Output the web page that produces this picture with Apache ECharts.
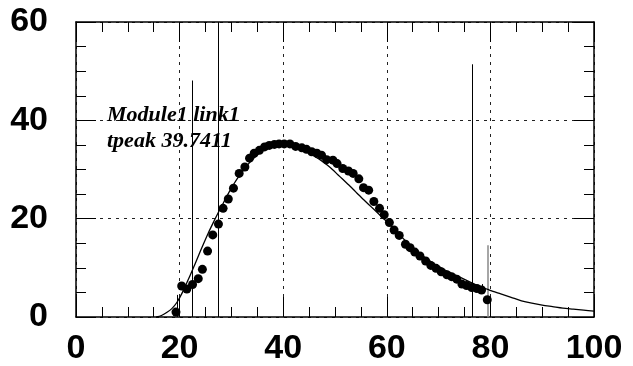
<!DOCTYPE html>
<html>
<head>
<meta charset="utf-8">
<script src="https://cdn.jsdelivr.net/npm/echarts@6/dist/echarts.min.js"></script>
<style>
  html, body { margin: 0; padding: 0; background: #fff; }
  #chart { width: 633px; height: 366px; }
</style>
</head>
<body>
<div id="chart"></div>
<script>
// Measured pulse samples
const sampleX = [19.3,20.4,21.4,22.5,23.6,24.4,25.4,26.4,27.5,28.4,29.4,30.4,31.5,32.6,33.5,34.4,35.4,36.4,37.3,38.3,39.2,40.2,41.3,42.4,43.6,44.5,45.5,46.5,47.4,48.4,49.6,50.4,51.5,52.6,53.5,54.6,55.5,56.5,57.5,58.6,59.5,60.5,61.4,62.4,63.6,64.5,65.4,66.4,67.5,68.5,69.5,70.5,71.6,72.5,73.5,74.5,75.4,76.4,77.4,78.3,79.4];
const sampleY = [1.0,6.3,5.7,6.6,7.8,9.7,13.4,16.7,18.9,22.1,24.0,26.2,29.2,30.5,32.3,33.3,33.9,34.6,34.9,35.1,35.2,35.2,35.2,34.7,34.4,34.1,33.6,33.3,32.9,32.0,31.9,31.2,30.2,29.7,29.2,28.1,26.3,25.8,23.5,22.1,20.8,19.2,17.7,16.6,14.8,14.1,13.2,12.4,11.4,10.5,9.9,9.2,8.6,8.2,7.7,6.7,6.4,6.0,5.8,5.5,3.5];

// Fitted pulse shape
const fitX = [15.5,16.5,17.5,18.5,19.5,20.5,21.5,22.5,23.5,24.5,25.5,26.5,27.5,28.5,29.5,30.5,31.5,32.5,33.5,34.5,35.5,36.5,37.5,38.5,39.5,40.5,41.5,42.5,43.5,44.5,45.5,46.5,47.5,48.5,49.5,50.5,51.5,52.5,53.5,54.5,55.5,56.5,57.5,58.5,59.5,60.5,61.5,62.5,63.5,64.5,65.5,66.5,67.5,68.5,69.5,70.5,71.5,72.5,73.5,74.5,75.5,76.5,77.5,78.5,79.5,80.5,82,84,86,88,90,92,94,96,98,100];
const fitY = [0,0.3,0.9,1.7,3.0,4.9,7.2,9.6,12.1,14.6,17.0,19.2,21.3,23.3,25.3,27.1,28.7,30.1,31.4,32.5,33.4,34.1,34.6,35.0,35.2,35.2,35.0,34.6,34.1,33.7,33.1,32.4,31.7,30.9,30.0,29.0,28.0,27.0,26.0,24.9,23.9,22.9,21.9,20.9,19.9,18.9,17.8,16.7,15.6,14.6,13.7,12.8,12.0,11.3,10.6,10.0,9.4,8.9,8.4,7.9,7.4,6.9,6.4,6.0,5.6,5.2,4.7,4.0,3.3,2.8,2.4,2.1,1.8,1.6,1.4,1.2];

// Error bars (x, low, high)
const barX = [19.5, 22.5, 27.5, 76.4, 78.4, 79.5];
const barLow = [0, 0, 0, 0, 4.7, 0];
const barHigh = [4.5, 48.1, 60, 51.4, 6.7, 14.6];
const barColor = ['#000', '#000', '#000', '#000', '#000', '#888'];

const xTicks = ['0', '20', '40', '60', '80', '100'];
const yTicks = ['0', '20', '40', '60'];

const labelLines = ['Module1 link1', 'tpeak 39.7411'];

const chart = echarts.init(document.getElementById('chart'), null, { renderer: 'canvas' });

const labelFont = {
  fontFamily: '"Liberation Sans", Arial, sans-serif',
  fontWeight: 'bold',
  fontSize: 34,
  color: '#000'
};

const gridLine = { show: true, lineStyle: { color: '#222', width: 1, type: [3, 5] } };

const baseX = {
  type: 'value', min: 0, max: 100, interval: 20,
  axisLine: { show: true, onZero: false, lineStyle: { color: '#000', width: 1.5 } },
  axisTick: { show: true, inside: true, length: 20, lineStyle: { color: '#000', width: 1 } },
  minorTick: { show: true, splitNumber: 4, length: 10, lineStyle: { color: '#000', width: 1 } },
  splitLine: { show: false }
};
const baseY = {
  type: 'value', min: 0, max: 60, interval: 20,
  axisLine: { show: true, onZero: false, lineStyle: { color: '#000', width: 1.5 } },
  axisTick: { show: true, inside: true, length: 20, lineStyle: { color: '#000', width: 1 } },
  minorTick: { show: true, splitNumber: 4, length: 10, lineStyle: { color: '#000', width: 1 } },
  splitLine: { show: false }
};

chart.setOption({
  animation: false,
  backgroundColor: '#fff',
  grid: { left: 76, right: 39, top: 22, bottom: 48, containLabel: false },
  xAxis: [
    Object.assign({}, baseX, {
      position: 'bottom',
      splitLine: gridLine,
      axisLabel: Object.assign({ margin: 15, formatter: v => xTicks[Math.round(v / 20)] }, labelFont)
    }),
    Object.assign({}, baseX, { position: 'top', axisLabel: { show: false } })
  ],
  yAxis: [
    Object.assign({}, baseY, {
      position: 'left',
      splitLine: gridLine,
      axisLabel: Object.assign({ margin: 28, formatter: v => yTicks[Math.round(v / 20)] }, labelFont)
    }),
    Object.assign({}, baseY, { position: 'right', axisLabel: { show: false } })
  ],
  series: [
    {
      type: 'lines',
      coordinateSystem: 'cartesian2d',
      xAxisIndex: 0, yAxisIndex: 0,
      silent: true,
      z: 3,
      lineStyle: { width: 1, opacity: 1 },
      data: barX.map((x, i) => ({
        coords: [[x, barLow[i]], [x, barHigh[i]]],
        lineStyle: { color: barColor[i], width: barColor[i] === '#000' ? 1 : 1.5 }
      }))
    },
    {
      type: 'line',
      xAxisIndex: 0, yAxisIndex: 0,
      data: fitX.map((x, i) => [x, fitY[i]]),
      showSymbol: false,
      smooth: 0.3,
      lineStyle: { color: '#000', width: 1.3 },
      z: 4
    },
    {
      type: 'scatter',
      xAxisIndex: 0, yAxisIndex: 0,
      data: sampleX.map((x, i) => [x, sampleY[i]]),
      symbol: 'circle',
      symbolSize: 9,
      itemStyle: { color: '#000', opacity: 1 },
      z: 5
    }
  ],
  graphic: labelLines.map((t, i) => ({
    type: 'text',
    left: 107,
    top: 104 + i * 26,
    z: 10,
    style: {
      text: t,
      fill: '#000',
      font: 'italic bold 22px "Liberation Serif", "Times New Roman", serif'
    }
  }))
});
</script>
</body>
</html>
